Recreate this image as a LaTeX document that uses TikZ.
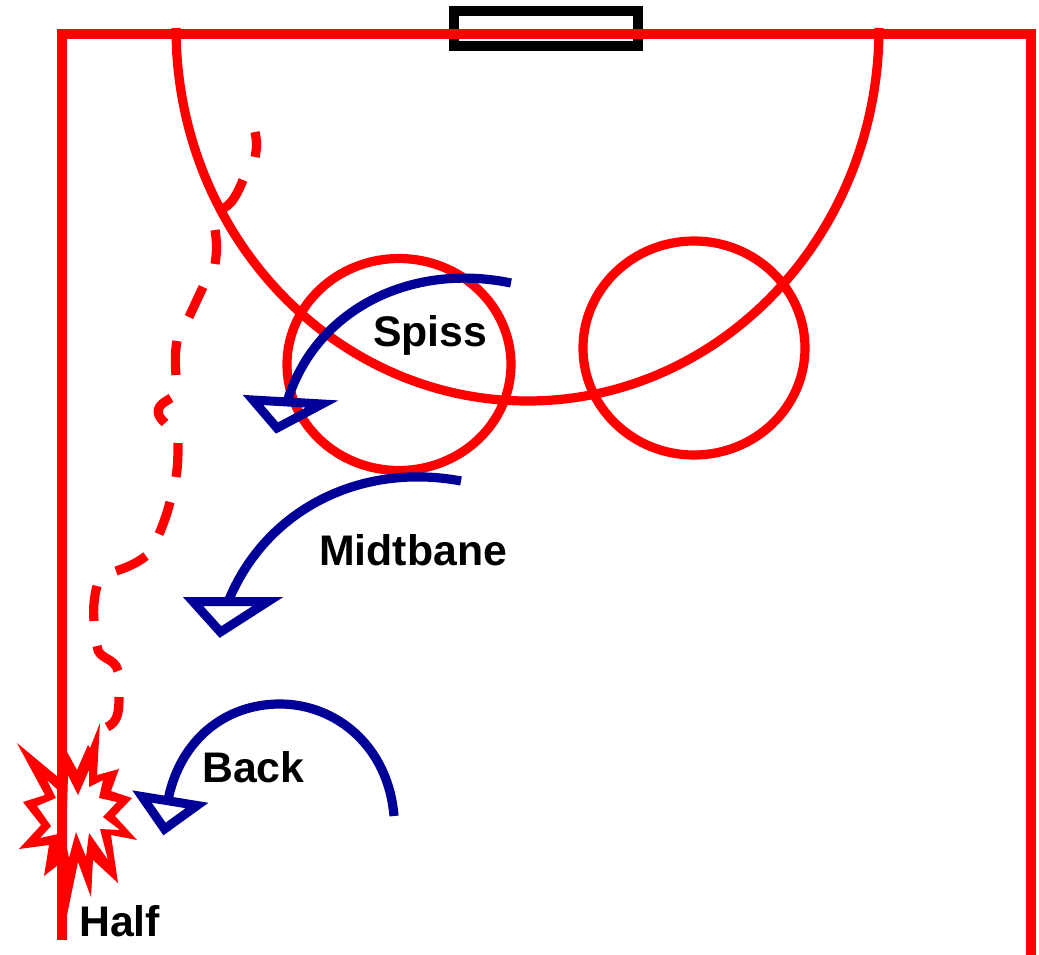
\documentclass[tikz,border=0pt]{standalone}
\usepackage{fontspec}
\setmainfont{Liberation Sans}
\definecolor{fieldred}{RGB}{255,0,0}
\definecolor{runblue}{RGB}{0,0,153}
\tikzset{
  field/.style={draw=fieldred,line width=9.2pt,line cap=butt,line join=miter},
  run/.style={draw=fieldred,line width=9.2pt,line cap=butt,line join=round},
  move/.style={draw=runblue,line width=9.2pt},
  head/.style={draw=runblue,line width=9pt,line join=miter,miter limit=10},
  lab/.style={font=\bfseries\fontsize{42.8}{43}\selectfont,text=black,inner sep=0pt,anchor=base west}
}
\begin{document}
\begin{tikzpicture}[x=1pt,y=-1pt]
\useasboundingbox (0,0) rectangle (1039,955);
% goal
\draw[black,line width=9.2pt] (454,11) rectangle (638,46);
% star
\fill[fieldred,even odd rule]
  (100,723) -- (97,775) -- (119,769) -- (111,791) -- (132,798) -- (115,816) -- (137,840) -- (111,835) -- (118,883) -- (93,860) -- (91,897) -- (78,862) -- (66,920) -- (58,920) -- (58,865) -- (44,876) -- (49,845) -- (19,849) -- (41,825) -- (23,802) -- (45,795) -- (17,743) -- (58,777) -- (58,745) -- (66,750) -- (77,770) -- (88,745) -- (90,748) -- cycle
  (47,780) -- (58,790) -- (58,834) -- (40,838) -- (51,826) -- (37,806) -- (56,798) -- cycle
  (68,775) -- (78,795) -- (89,770) -- (89,787) -- (103,780) -- (99,798) -- (117,802) -- (103,817) -- (120,830) -- (100,829) -- (108,860) -- (89,833) -- (86,857) -- (76,832) -- (69,858) -- (66,843) -- cycle;
% field
\draw[field] (62,940) -- (62,34) -- (1031,34) -- (1031,955);
\draw[field] (176,28) arc[start angle=180,end angle=360,x radius=351.5,y radius=-373];
\draw[field] (399,364.5) ellipse[x radius=112,y radius=106];
\draw[field] (694,348) ellipse[x radius=111,y radius=107];
% run path
\draw[run] (255,132) .. controls (257,141) and (257,148) .. (255,157);
\draw[run] (243,180) .. controls (238,192) and (233,203) .. (224,208);
\draw[run] (215,230) .. controls (217,242) and (217,252) .. (215,264);
\draw[run] (203,287) -- (189,317);
\draw[run] (177,341) .. controls (175,352) and (175,362) .. (176,375);
\draw[run] (171,398) .. controls (163,403) and (150,409) .. (165,423);
\draw[run] (178,443) .. controls (178,454) and (178,465) .. (176,477);
\draw[run] (170,502) .. controls (167,514) and (163,525) .. (159,534);
\draw[run] (146,556) .. controls (137,563) and (128,567) .. (116,571);
\draw[run] (97,586) .. controls (94,597) and (93,609) .. (94,621);
\draw[run] (97,646) .. controls (98,660) and (115,657) .. (118,671);
\draw[run] (119,697) .. controls (119,712) and (118,722) .. (107,727);
% moves
\draw[move] (511,283) .. controls (410,262) and (315,310) .. (287,402);
\draw[head] (253,400) -- (322,404) -- (277,428) -- cycle;
\draw[move] (461,481) .. controls (360,462) and (265,510) .. (228,602);
\draw[head] (193,601.5) -- (268,601.5) -- (220.5,632) -- cycle;
\draw[move] (394,816) .. controls (388,745) and (335,704) .. (280,704) .. controls (225,704) and (180,740) .. (168,800);
\draw[head] (142,796.5) -- (197,805.5) -- (164.5,829) -- cycle;
% labels
\node[lab] (spiss) at (373,346) {Spiss};
\node[lab] (midt) at (319,565) {Midtbane};
\node[lab] (back) at (202,782) {Back};
\node[lab] (half) at (79,936) {Half};
\end{tikzpicture}
\end{document}
